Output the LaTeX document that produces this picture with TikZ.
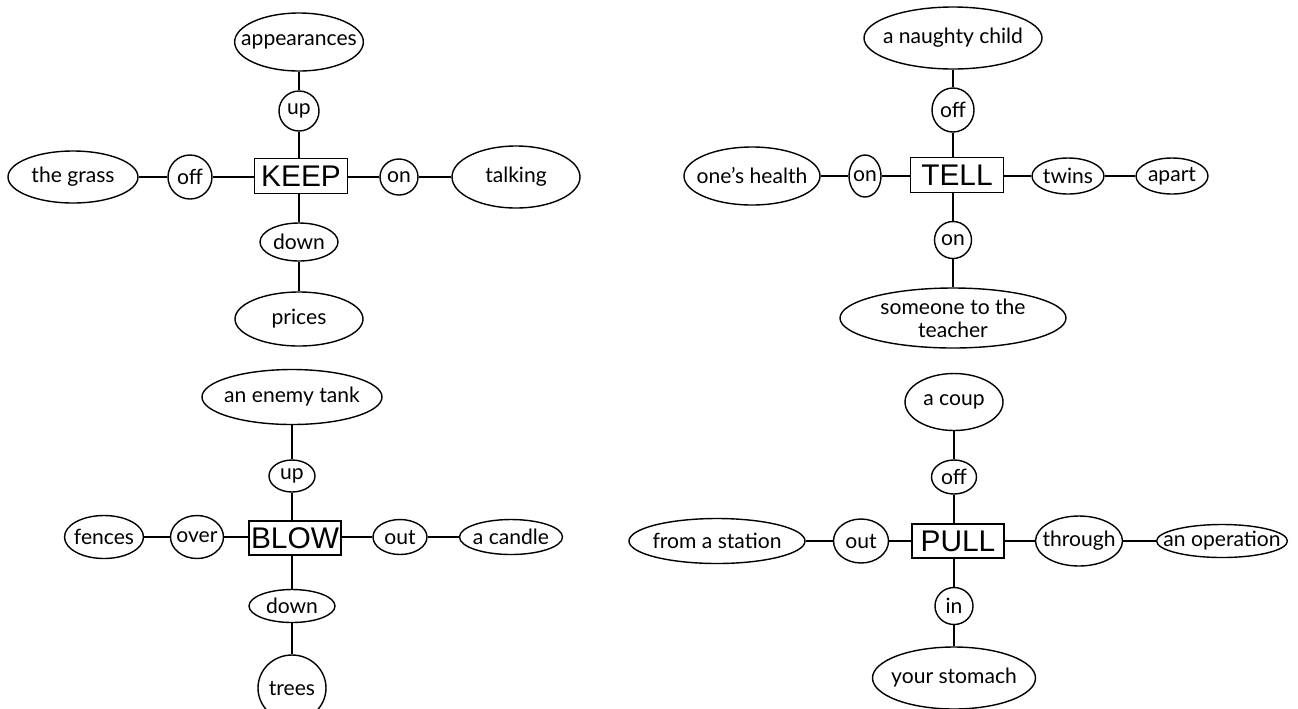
\documentclass[tikz,border=0pt]{standalone}
\usepackage{fontspec}
\setmainfont{Lato}
\newfontfamily\boxfont{Liberation Sans}
\usetikzlibrary{shapes.geometric}
\tikzset{
  ell/.style 2 args={ellipse, draw, line width=0.8pt, inner xsep=-7pt, inner ysep=-3pt,
    minimum width=#1*0.02cm, minimum height=#2*0.02cm, font=\fontsize{12}{13}\selectfont, align=center},
  verb/.style={rectangle, draw, line width=0.8pt, inner sep=0pt,
    minimum width=93*0.02cm, minimum height=35*0.02cm, font=\boxfont\fontsize{17}{18}\selectfont},
  conn/.style={line width=0.8pt}
}
\begin{document}
\begin{tikzpicture}[x=0.02cm,y=-0.02cm]
\useasboundingbox (0,0) rectangle (1298,708);
% KEEP
\node[verb] (keep) at (301,176) {KEEP};
\node[ell={128}{58}] (app) at (299,42) {appearances};
\node[ell={40}{40}] (kup) at (299,111) {up};
\node[ell={130}{52}] (grass) at (73,177) {the grass};
\node[ell={44}{44}] (koff) at (190,177) {off};
\node[ell={38}{36}] (kon) at (399,177) {on};
\node[ell={128}{62}] (talk) at (516,177) {talking};
\node[ell={78}{38}] (kdown) at (299,242) {down};
\node[ell={128}{54}] (prices) at (299,319) {prices};
\draw[conn] (app) -- (kup);
\draw[conn] (kup) -- (kup |- keep.north);
\draw[conn] (kdown |- keep.south) -- (kdown);
\draw[conn] (kdown) -- (prices);
\draw[conn] (grass) -- (koff);
\draw[conn] (koff) -- (koff -| keep.west);
\draw[conn] (keep.east |- kon) -- (kon);
\draw[conn] (kon) -- (talk);
% TELL
\node[verb] (tell) at (957,175) {TELL};
\node[ell={178}{62}] (naughty) at (953,38) {a naughty child};
\node[ell={42}{44}] (toff) at (953,110) {off};
\node[ell={136}{58}] (health) at (752,176) {one's health};
\node[ell={32}{42}] (ton1) at (865,176) {on};
\node[ell={72}{36}] (twins) at (1068,176) {twins};
\node[ell={72}{36}] (apart) at (1172,176) {apart};
\node[ell={37}{37}] (ton2) at (953,240) {on};
\node[ell={226}{60}] (someone) at (953,318) {someone to the\\teacher};
\draw[conn] (naughty) -- (toff);
\draw[conn] (toff) -- (toff |- tell.north);
\draw[conn] (ton2 |- tell.south) -- (ton2);
\draw[conn] (ton2) -- (someone);
\draw[conn] (health) -- (ton1);
\draw[conn] (ton1) -- (ton1 -| tell.west);
\draw[conn] (tell.east |- twins) -- (twins);
\draw[conn] (twins) -- (apart);
% BLOW
\node[verb, minimum width=92*0.02cm, minimum height=34*0.02cm] (blow) at (295,538) {BLOW};
\node[ell={180}{55}] (tank) at (292,397) {an enemy tank};
\node[ell={46}{32}] (bup) at (292,476) {up};
\node[ell={79}{43}] (fences) at (104,537) {fences};
\node[ell={53}{43}] (over) at (197,537) {over};
\node[ell={54}{35}] (bout) at (400,537) {out};
\node[ell={103}{35}] (candle) at (511,537) {a candle};
\node[ell={86}{33}] (bdown) at (292,606) {down};
\node[ell={68}{66}] (trees) at (292,688) {trees};
\draw[conn] (tank) -- (bup);
\draw[conn] (bup) -- (bup |- blow.north);
\draw[conn] (bdown |- blow.south) -- (bdown);
\draw[conn] (bdown) -- (trees);
\draw[conn] (fences) -- (over);
\draw[conn] (over) -- (over -| blow.west);
\draw[conn] (blow.east |- bout) -- (bout);
\draw[conn] (bout) -- (candle);
% PULL
\node[verb, minimum width=92*0.02cm, minimum height=34*0.02cm] (pull) at (958,541) {PULL};
\node[ell={98}{57}] (coup) at (954,402) {a coup};
\node[ell={45}{34}] (poff) at (954,477) {off};
\node[ell={176}{45}] (station) at (717,541) {from a station};
\node[ell={55}{44}] (pout) at (861,541) {out};
\node[ell={87}{50}] (through) at (1079,541) {through};
\node[ell={130}{33}] (operation) at (1222,541) {an operation};
\node[ell={38}{37}] (pin) at (954,606) {in};
\node[ell={163}{62}] (stomach) at (954,678) {your stomach};
\draw[conn] (coup) -- (poff);
\draw[conn] (poff) -- (poff |- pull.north);
\draw[conn] (pin |- pull.south) -- (pin);
\draw[conn] (pin) -- (stomach);
\draw[conn] (station) -- (pout);
\draw[conn] (pout) -- (pout -| pull.west);
\draw[conn] (pull.east |- through) -- (through);
\draw[conn] (through) -- (operation);
\end{tikzpicture}
\end{document}
